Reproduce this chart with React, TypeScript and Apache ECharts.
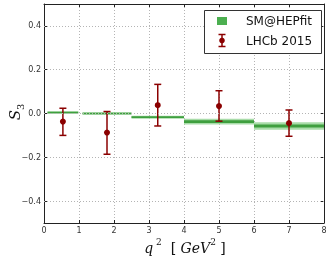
import React, { useEffect, useRef } from "react";
import * as echarts from "echarts";

// SM@HEPfit prediction bins
const binLo = [0.1, 1.1, 2.5, 4, 6];
const binHi = [0.98, 2.5, 4, 6, 8];
const smCentral = [0.004, 0.0, -0.017, -0.037, -0.057];
const smInner = [0.002, 0.002, 0.004, 0.006, 0.007];
const smOuter = [0.004, 0.004, 0.007, 0.013, 0.017];

// LHCb 2015 measurement
const lhcbX = [0.54, 1.8, 3.25, 5.0, 7.0];
const lhcbY = [-0.037, -0.087, 0.038, 0.034, -0.044];
const lhcbHigh = [0.024, 0.009, 0.133, 0.104, 0.016];
const lhcbLow = [-0.1, -0.186, -0.057, -0.035, -0.104];

const yTicks = [-0.4, -0.2, 0.0, 0.2, 0.4];

const DARK_RED = "#8b0000";
const GREEN_DARK = "#3f9f3f";
const GREEN_LIGHT = "#a9dca9";
const GRID_STYLE = { color: "#b4b4b4", type: [1, 2], width: 1 };

export default function App() {
  const ref = useRef<HTMLDivElement>(null);
  useEffect(() => {
    if (!ref.current) return;
    const chart = echarts.init(ref.current, null, { renderer: "svg" });
    const smData = binLo.map((lo, i) => [lo, binHi[i], smCentral[i], smInner[i], smOuter[i]]);
    const lhcbData = lhcbX.map((x, i) => [x, lhcbY[i], lhcbLow[i], lhcbHigh[i]]);
    const fmt = (v: number) => {
      const s = Math.abs(v).toFixed(1);
      return v < -1e-9 ? "\u2212" + s : s;
    };
    const axisLine = { show: true, onZero: false, lineStyle: { color: "#222", width: 1 } };
    const tick = { show: true, inside: true, length: 3, lineStyle: { color: "#222" } };
    chart.setOption({
      animation: false,
      grid: { left: 44, right: 8, top: 4, bottom: 37 },
      xAxis: [
        {
          type: "value",
          min: 0,
          max: 8,
          interval: 1,
          axisLine,
          axisTick: tick,
          axisLabel: { fontFamily: "DejaVu Sans", fontSize: 8, color: "#333", margin: 3 },
          splitLine: { show: true, lineStyle: GRID_STYLE },
        },
        {
          type: "value",
          position: "top",
          min: 0,
          max: 8,
          interval: 1,
          axisLine,
          axisTick: tick,
          axisLabel: { show: false },
          splitLine: { show: false },
        },
      ],
      yAxis: [
        {
          type: "value",
          min: -0.5,
          max: 0.5,
          axisLine,
          axisTick: { ...tick, customValues: yTicks },
          axisLabel: {
            fontFamily: "DejaVu Sans",
            fontSize: 8,
            color: "#333",
            margin: 3,
            customValues: yTicks,
            formatter: (v: number) => fmt(v),
          },
          splitLine: { show: false },
        },
        {
          type: "value",
          position: "right",
          min: -0.5,
          max: 0.5,
          axisLine,
          axisTick: { ...tick, customValues: yTicks },
          axisLabel: { show: false },
          splitLine: { show: false },
        },
      ],
      series: [
        {
          type: "line",
          data: [],
          silent: true,
          markLine: {
            silent: true,
            symbol: "none",
            label: { show: false },
            lineStyle: GRID_STYLE,
            data: yTicks.map((v) => ({ yAxis: v })),
          },
        },
        {
          type: "custom",
          data: smData,
          encode: { x: [0, 1], y: 2 },
          z: 3,
          renderItem: (params: any, api: any) => {
            const lo = api.value(0);
            const hi = api.value(1);
            const c = api.value(2);
            const inn = api.value(3);
            const out = api.value(4);
            const pLo = api.coord([lo, c + out]);
            const pHi = api.coord([hi, c - out]);
            const qLo = api.coord([lo, c + inn]);
            const qHi = api.coord([hi, c - inn]);
            const oh = Math.max(pHi[1] - pLo[1], 2.5);
            const ih = Math.max(qHi[1] - qLo[1], 1.5);
            const cy = api.coord([lo, c])[1];
            return {
              type: "group",
              children: [
                {
                  type: "rect",
                  shape: { x: pLo[0], y: cy - oh / 2, width: pHi[0] - pLo[0], height: oh },
                  style: { fill: GREEN_LIGHT },
                },
                {
                  type: "rect",
                  shape: { x: qLo[0], y: cy - ih / 2, width: qHi[0] - qLo[0], height: ih },
                  style: { fill: GREEN_DARK },
                },
              ],
            };
          },
        },
        {
          type: "custom",
          data: lhcbData,
          encode: { x: 0, y: [1, 2, 3] },
          z: 4,
          renderItem: (params: any, api: any) => {
            const x = api.value(0);
            const y = api.value(1);
            const lo = api.value(2);
            const hi = api.value(3);
            const p = api.coord([x, y]);
            const pl = api.coord([x, lo]);
            const ph = api.coord([x, hi]);
            const cap = 3.5;
            const ls = { stroke: DARK_RED, lineWidth: 1.5 };
            return {
              type: "group",
              children: [
                { type: "line", shape: { x1: p[0], y1: pl[1], x2: p[0], y2: ph[1] }, style: ls },
                { type: "line", shape: { x1: p[0] - cap, y1: pl[1], x2: p[0] + cap, y2: pl[1] }, style: ls },
                { type: "line", shape: { x1: p[0] - cap, y1: ph[1], x2: p[0] + cap, y2: ph[1] }, style: ls },
                { type: "circle", shape: { cx: p[0], cy: p[1], r: 3 }, style: { fill: DARK_RED } },
              ],
            };
          },
        },
      ],
      graphic: [
        {
          type: "rect",
          z: 100,
          shape: { x: 204.5, y: 10.5, width: 117, height: 43 },
          style: { fill: "#fff", stroke: "#333", lineWidth: 1 },
        },
        {
          type: "rect",
          z: 101,
          shape: { x: 217, y: 17, width: 10, height: 8 },
          style: { fill: "#4caf50" },
        },
        {
          type: "line",
          z: 101,
          shape: { x1: 222, y1: 34.5, x2: 222, y2: 46.5 },
          style: { stroke: DARK_RED, lineWidth: 1.5 },
        },
        {
          type: "line",
          z: 101,
          shape: { x1: 218.5, y1: 34.5, x2: 225.5, y2: 34.5 },
          style: { stroke: DARK_RED, lineWidth: 1.5 },
        },
        {
          type: "line",
          z: 101,
          shape: { x1: 218.5, y1: 46.5, x2: 225.5, y2: 46.5 },
          style: { stroke: DARK_RED, lineWidth: 1.5 },
        },
        {
          type: "circle",
          z: 101,
          shape: { cx: 222, cy: 40.5, r: 2.8 },
          style: { fill: DARK_RED },
        },
        {
          type: "text",
          z: 101,
          x: 246,
          y: 21,
          style: {
            text: "SM@HEPfit",
            font: "12px 'DejaVu Sans'",
            fill: "#111",
            verticalAlign: "middle",
          },
        },
        {
          type: "text",
          z: 101,
          x: 246,
          y: 41,
          style: {
            text: "LHCb 2015",
            font: "12px 'DejaVu Sans'",
            fill: "#111",
            verticalAlign: "middle",
          },
        },
        {
          type: "text",
          z: 101,
          x: 13,
          y: 112,
          rotation: Math.PI / 2,
          style: {
            text: "{s|S}{sub|3}",
            align: "center",
            verticalAlign: "middle",
            rich: {
              s: { fontFamily: "DejaVu Serif", fontStyle: "italic", fontSize: 15, fill: "#111", lineHeight: 18, verticalAlign: "bottom" },
              sub: { fontFamily: "DejaVu Serif", fontSize: 10, fill: "#111", lineHeight: 14, verticalAlign: "bottom", padding: [0, 0, -3, 0] },
            },
          },
        },
        {
          type: "text",
          z: 101,
          x: 185,
          y: 237,
          style: {
            text: "{i|q}{sup| 2}{n|  [ }{i|GeV}{sup|2}{n| ]}",
            align: "center",
            verticalAlign: "top",
            rich: {
              i: { fontFamily: "DejaVu Serif", fontStyle: "italic", fontSize: 14, fill: "#111", lineHeight: 18, verticalAlign: "bottom" },
              sup: { fontFamily: "DejaVu Serif", fontSize: 9, fill: "#111", lineHeight: 18, verticalAlign: "top" },
              n: { fontFamily: "DejaVu Serif", fontSize: 14, fill: "#111", lineHeight: 18, verticalAlign: "bottom" },
            },
          },
        },
      ],
    });
    return () => chart.dispose();
  }, []);
  return <div ref={ref} style={{ position: "fixed", left: 0, top: 0, width: 332, height: 260 }} />;
}
